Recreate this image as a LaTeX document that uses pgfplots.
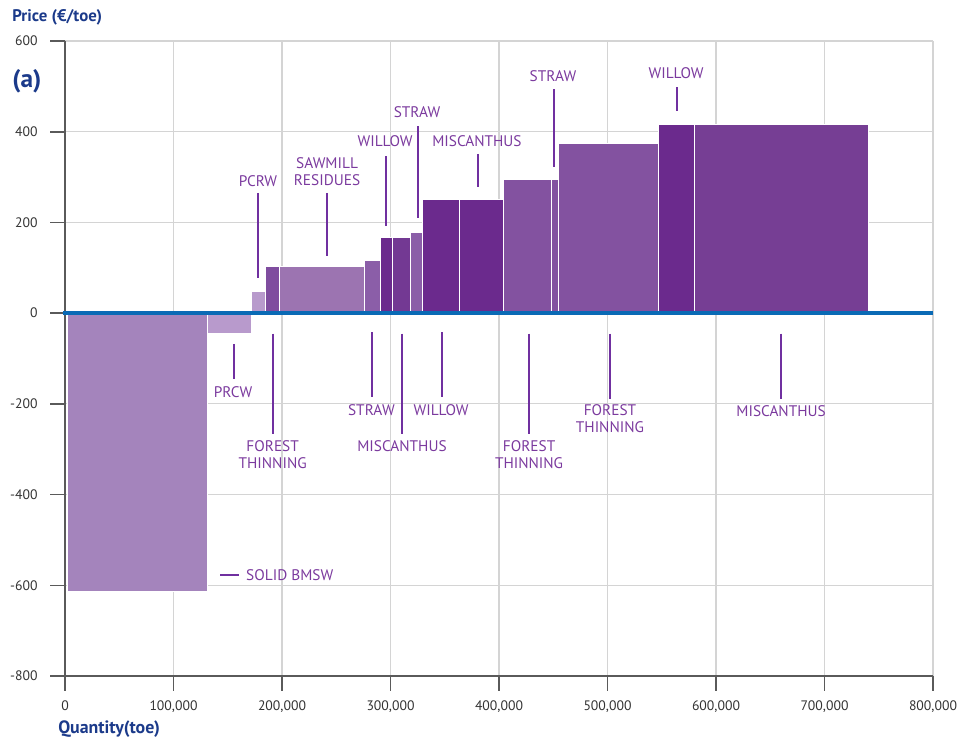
\documentclass[border=0pt]{standalone}
\usepackage{pgfplots}
\pgfplotsset{compat=1.18}
\usepackage{fontspec}
\setmainfont{PT Sans}
\usetikzlibrary{calc}
\definecolor{cBMSW}{HTML}{A484BC}
\definecolor{cPale}{HTML}{B89ACC}
\definecolor{cFT}{HTML}{7F4D9F}
\definecolor{cSaw}{HTML}{9C74B1}
\definecolor{cStraw}{HTML}{8B5EA8}
\definecolor{cWil}{HTML}{6B2A8D}
\definecolor{cMis}{HTML}{733993}
\definecolor{cFTb}{HTML}{8352A0}
\definecolor{cMisb}{HTML}{763E94}
\definecolor{labc}{HTML}{7B3A9E}
\definecolor{linec}{HTML}{7030A0}
\definecolor{zeroblue}{HTML}{0A6AB5}
\definecolor{titleblue}{HTML}{1B3A8A}
\definecolor{tickgray}{HTML}{333333}
\definecolor{axgray}{HTML}{5A5A5A}
\definecolor{gridgray}{HTML}{D4D4D4}
\tikzset{
  mybar/.style={draw=white, line width=0.8pt},
  lab/.style={text=labc, font=\fontsize{11.5}{12.75}\selectfont, align=center, inner sep=0pt},
  labline/.style={draw=linec, line width=1.5pt},
}
\begin{document}
\begin{tikzpicture}
\begin{axis}[
  name=ax,
  scale only axis,
  width=651pt, height=476.25pt,
  xmin=0, xmax=800000, ymin=-800, ymax=600,
  axis x line*=bottom, axis y line*=left,
  axis line style={-, draw=axgray, line width=1.5pt},
  scaled x ticks=false,
  xtick={0,100000,200000,300000,400000,500000,600000,700000,800000},
  xticklabels={0,{100,000},{200,000},{300,000},{400,000},{500,000},{600,000},{700,000},{800,000}},
  ytick={-800,-600,-400,-200,0,200,400,600},
  yticklabels={-800,-600,-400,-200,0,200,400,600},
  tick align=outside,
  major tick length=11pt,
  tick style={draw=axgray, line width=1.2pt},
  ticklabel style={font=\fontsize{10.3}{12}\selectfont, text=tickgray},
  yticklabel style={xshift=-6pt},
  xticklabel style={yshift=-4pt},
  grid=major,
  major grid style={draw=gridgray, line width=0.9pt},
  clip=false,
]
% bars
\addplot[mybar, fill=cBMSW] coordinates {(2000,0)(2000,-613)(131000,-613)(131000,0)} -- cycle;
\addplot[mybar, fill=cPale] coordinates {(131000,0)(131000,-45)(171500,-45)(171500,0)} -- cycle;
\addplot[mybar, fill=cPale] coordinates {(171500,0)(171500,48)(184500,48)(184500,0)} -- cycle;
\addplot[mybar, fill=cFT] coordinates {(184500,0)(184500,102)(197500,102)(197500,0)} -- cycle;
\addplot[mybar, fill=cSaw] coordinates {(197500,0)(197500,102)(276000,102)(276000,0)} -- cycle;
\addplot[mybar, fill=cStraw] coordinates {(276000,0)(276000,117)(290500,117)(290500,0)} -- cycle;
\addplot[mybar, fill=cWil] coordinates {(290500,0)(290500,167)(301700,167)(301700,0)} -- cycle;
\addplot[mybar, fill=cMis] coordinates {(301700,0)(301700,167)(318500,167)(318500,0)} -- cycle;
\addplot[mybar, fill=cStraw] coordinates {(318500,0)(318500,178)(329300,178)(329300,0)} -- cycle;
\addplot[mybar, fill=cWil] coordinates {(329300,0)(329300,250)(364000,250)(364000,0)} -- cycle;
\addplot[mybar, fill=cWil] coordinates {(364000,0)(364000,250)(404000,250)(404000,0)} -- cycle;
\addplot[mybar, fill=cFTb] coordinates {(404000,0)(404000,294)(448800,294)(448800,0)} -- cycle;
\addplot[mybar, fill=cFTb] coordinates {(448800,0)(448800,294)(454700,294)(454700,0)} -- cycle;
\addplot[mybar, fill=cFTb] coordinates {(454700,0)(454700,375)(546800,375)(546800,0)} -- cycle;
\addplot[mybar, fill=cWil] coordinates {(546800,0)(546800,416)(580600,416)(580600,0)} -- cycle;
\addplot[mybar, fill=cMisb] coordinates {(580600,0)(580600,416)(740400,416)(740400,0)} -- cycle;
% zero line
\addplot[draw=zeroblue, line width=3.5pt] coordinates {(-2000,0)(800000,0)};
% leader lines (top)
\addplot[labline] coordinates {(177900,265)(177900,77)};
\addplot[labline] coordinates {(241500,265)(241500,126)};
\addplot[labline] coordinates {(295900,346)(295900,192)};
\addplot[labline] coordinates {(325400,412)(325400,209)};
\addplot[labline] coordinates {(380700,351)(380700,278)};
\addplot[labline] coordinates {(450700,494)(450700,322)};
\addplot[labline] coordinates {(564100,498)(564100,445)};
% leader lines (bottom)
\addplot[labline] coordinates {(155400,-68)(155400,-146)};
\addplot[labline] coordinates {(191400,-45)(191400,-267)};
\addplot[labline] coordinates {(283300,-42)(283300,-185)};
\addplot[labline] coordinates {(310300,-45)(310300,-267)};
\addplot[labline] coordinates {(347200,-42)(347200,-185)};
\addplot[labline] coordinates {(427700,-45)(427700,-267)};
\addplot[labline] coordinates {(502300,-45)(502300,-189)};
\addplot[labline] coordinates {(660000,-45)(660000,-189)};
\addplot[labline] coordinates {(142900,-578)(160700,-578)};
% labels
\node[lab] at (axis cs:177900,291) {PCRW};
\node[lab] at (axis cs:241500,311) {SAWMILL\\RESIDUES};
\node[lab] at (axis cs:295000,379) {WILLOW};
\node[lab] at (axis cs:324500,443) {STRAW};
\node[lab] at (axis cs:379700,379) {MISCANTHUS};
\node[lab] at (axis cs:449800,523) {STRAW};
\node[lab] at (axis cs:563200,529) {WILLOW};
\node[lab] at (axis cs:154900,-174) {PRCW};
\node[lab] at (axis cs:191400,-312) {FOREST\\THINNING};
\node[lab] at (axis cs:282400,-214) {STRAW};
\node[lab] at (axis cs:310600,-294) {MISCANTHUS};
\node[lab] at (axis cs:346600,-214) {WILLOW};
\node[lab] at (axis cs:427700,-312) {FOREST\\THINNING};
\node[lab] at (axis cs:502300,-232) {FOREST\\THINNING};
\node[lab] at (axis cs:660000,-215) {MISCANTHUS};
\node[lab, anchor=west] at (axis cs:166800,-578) {SOLID BMSW};
% titles
\node[anchor=west, inner sep=0pt, text=titleblue, font=\bfseries\fontsize{12.6}{14}\selectfont] at (axis cs:-48800,653) {Price (€/toe)};
\node[anchor=west, inner sep=0pt, text=titleblue, font=\bfseries\fontsize{19}{22}\selectfont] at (axis cs:-48800,512) {(a)};
\node[anchor=west, inner sep=0pt, text=titleblue, font=\bfseries\fontsize{13.4}{15}\selectfont] at (axis cs:-6450,-917) {Quantity(toe)};
\end{axis}
\pgfresetboundingbox
\path ($(ax.south west)+(-48.75pt,-48pt)$) rectangle ($(ax.north east)+(21.75pt,30.75pt)$);
\end{tikzpicture}
\end{document}
